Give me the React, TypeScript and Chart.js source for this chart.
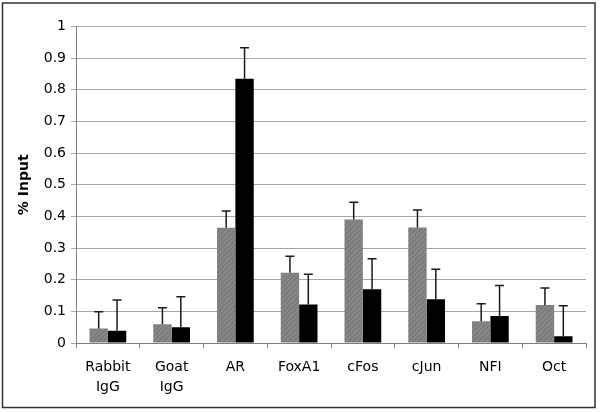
import React, { useEffect, useRef } from "react";
import { Chart, registerables } from "chart.js";

Chart.register(...registerables);

const categories: (string | string[])[] = [
  ["Rabbit", "IgG"],
  ["Goat", "IgG"],
  "AR",
  "FoxA1",
  "cFos",
  "cJun",
  "NFI",
  "Oct",
];
const grayValues = [0.046, 0.059, 0.364, 0.222, 0.39, 0.365, 0.069, 0.12];
const grayErrors = [0.053, 0.052, 0.053, 0.052, 0.055, 0.055, 0.055, 0.054];
const blackValues = [0.039, 0.05, 0.835, 0.122, 0.17, 0.138, 0.085, 0.021];
const blackErrors = [0.097, 0.096, 0.098, 0.095, 0.096, 0.095, 0.097, 0.097];
const yTickMin = 0;
const yTickMax = 1;
const yTickStep = 0.1;
const yTitle = "% Input";

const FONT = "'DejaVu Sans', Verdana, sans-serif";

function makeHatch(): CanvasPattern | string {
  const c = document.createElement("canvas");
  c.width = 5;
  c.height = 5;
  const g = c.getContext("2d");
  if (!g) return "#7f7f7f";
  g.fillStyle = "#858585";
  g.fillRect(0, 0, 5, 5);
  g.strokeStyle = "#727272";
  g.lineWidth = 1;
  g.beginPath();
  g.moveTo(-1, 6);
  g.lineTo(6, -1);
  g.moveTo(-1, 1);
  g.lineTo(1, -1);
  g.moveTo(4, 6);
  g.lineTo(6, 4);
  g.stroke();
  const p = g.createPattern(c, "repeat");
  return p || "#7f7f7f";
}

const errorBarPlugin = {
  id: "errorBars",
  afterDatasetsDraw(chart: any) {
    const ctx = chart.ctx;
    const yScale = chart.scales.y;
    chart.data.datasets.forEach((ds: any, di: number) => {
      const meta = chart.getDatasetMeta(di);
      const errs: number[] = ds.errors || [];
      meta.data.forEach((el: any, i: number) => {
        const v = ds.data[i];
        const top = yScale.getPixelForValue(v + errs[i]);
        const base = yScale.getPixelForValue(v);
        ctx.save();
        ctx.strokeStyle = "#1a1a1a";
        ctx.lineWidth = 1.5;
        ctx.beginPath();
        ctx.moveTo(el.x, base);
        ctx.lineTo(el.x, top);
        ctx.moveTo(el.x - 4.5, top);
        ctx.lineTo(el.x + 4.5, top);
        ctx.stroke();
        ctx.restore();
      });
    });
  },
};

const framePlugin = {
  id: "frame",
  beforeDraw(chart: any) {
    const ctx = chart.ctx;
    ctx.save();
    ctx.fillStyle = "#ffffff";
    ctx.fillRect(0, 0, chart.width, chart.height);
    ctx.restore();
  },
  afterDraw(chart: any) {
    const ctx = chart.ctx;
    const area = chart.chartArea;
    ctx.save();
    ctx.strokeStyle = "#333333";
    ctx.lineWidth = 1.5;
    ctx.strokeRect(2.5, 3, 592.5, 404.5);
    ctx.translate(24, (area.top + area.bottom) / 2);
    ctx.rotate(-Math.PI / 2);
    ctx.fillStyle = "#000000";
    ctx.font = `bold 14px ${FONT}`;
    ctx.textAlign = "center";
    ctx.textBaseline = "middle";
    ctx.fillText(yTitle, 0, 0);
    ctx.restore();
  },
};

export default function App() {
  const ref = useRef<HTMLCanvasElement | null>(null);
  useEffect(() => {
    if (!ref.current) return;
    const chart = new Chart(ref.current, {
      type: "bar",
      data: {
        labels: categories as any,
        datasets: [
          {
            label: "gray",
            data: grayValues,
            errors: grayErrors,
            backgroundColor: makeHatch() as any,
            borderWidth: 0,
          } as any,
          {
            label: "black",
            data: blackValues,
            errors: blackErrors,
            backgroundColor: "#000000",
            borderWidth: 0,
          } as any,
        ],
      },
      options: {
        animation: false,
        responsive: false,
        devicePixelRatio: 1,
        layout: { padding: { left: 0, right: 14, top: 26.5, bottom: 0 } },
        plugins: {
          legend: { display: false },
          tooltip: { enabled: false },
        },
        datasets: {
          bar: { categoryPercentage: 0.576, barPercentage: 1 },
        },
        scales: {
          x: {
            offset: true,
            grid: {
              offset: true,
              drawOnChartArea: false,
              drawTicks: true,
              tickLength: 5,
              color: "#808080",
            },
            border: { color: "#808080", width: 1 },
            ticks: {
              color: "#000",
              padding: 10,
              maxRotation: 0,
              autoSkip: false,
              font: { family: FONT, size: 14, lineHeight: 1.4 },
            },
            afterFit(scale: any) {
              scale.height = 69;
            },
          },
          y: {
            min: yTickMin,
            max: yTickMax,
            grid: {
              color: "#a6a6a6",
              tickLength: 5,
              drawTicks: true,
            },
            border: { color: "#808080", width: 1 },
            ticks: {
              stepSize: yTickStep,
              color: "#000",
              padding: 5,
              font: { family: FONT, size: 14 },
              callback: (v: any) => String(Math.round(Number(v) * 10) / 10),
            },
            afterFit(scale: any) {
              scale.width = 76;
            },
          },
        },
      },
      plugins: [errorBarPlugin, framePlugin],
    } as any);
    return () => chart.destroy();
  }, []);
  return (
    <div style={{ position: "fixed", left: 0, top: 0, width: 600, height: 412 }}>
      <canvas ref={ref} width={600} height={412} style={{ display: "block", width: 600, height: 412 }} />
    </div>
  );
}
